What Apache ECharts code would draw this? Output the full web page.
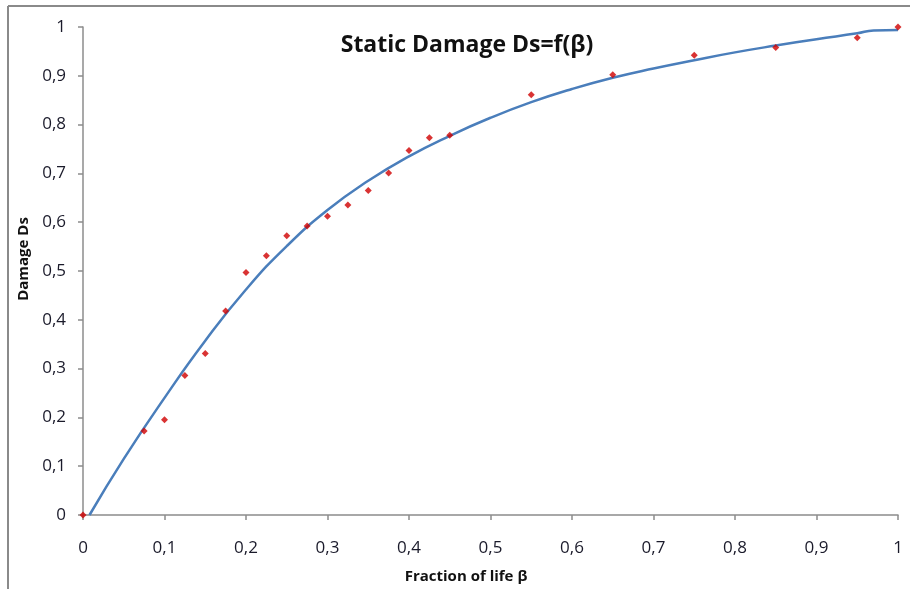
<!DOCTYPE html>
<html>
<head>
<meta charset="utf-8">
<script src="https://cdn.jsdelivr.net/npm/echarts@6/dist/echarts.min.js"></script>
<style>
html,body{margin:0;padding:0;background:#fff;}
#c{width:910px;height:589px;}
</style>
</head>
<body>
<div id="c"></div>
<script>
// Measured damage points (beta, Ds)
const measuredBeta = [0, 0.075, 0.1, 0.125, 0.15, 0.175, 0.2, 0.225, 0.25, 0.275, 0.3, 0.325, 0.35, 0.375, 0.4, 0.425, 0.45, 0.55, 0.65, 0.75, 0.85, 0.95, 1.0];
const measuredDs   = [0, 0.172, 0.195, 0.286, 0.331, 0.418, 0.497, 0.531, 0.572, 0.592, 0.612, 0.635, 0.665, 0.701, 0.747, 0.773, 0.778, 0.861, 0.902, 0.942, 0.958, 0.978, 1.0];
// Fitted curve
const curveBeta = [0.008, 0.05, 0.1, 0.15, 0.2, 0.25, 0.3, 0.35, 0.4, 0.45, 0.5, 0.55, 0.6, 0.65, 0.7, 0.75, 0.8, 0.85, 0.9, 0.95, 0.97, 1.0];
const curveDs   = [0, 0.115, 0.24, 0.357, 0.462, 0.551, 0.625, 0.685, 0.735, 0.777, 0.814, 0.846, 0.873, 0.896, 0.915, 0.932, 0.948, 0.962, 0.975, 0.987, 0.993, 0.994];
const xTicks = [0, 0.1, 0.2, 0.3, 0.4, 0.5, 0.6, 0.7, 0.8, 0.9, 1];
const yTicks = [0, 0.1, 0.2, 0.3, 0.4, 0.5, 0.6, 0.7, 0.8, 0.9, 1];

const titleText = 'Static Damage Ds=f(β)';
const xName = 'Fraction of life β';
const yName = 'Damage Ds';

const fmt = v => String(Math.round(v * 10) / 10).replace('.', ',');

const chart = echarts.init(document.getElementById('c'), null, {renderer: 'canvas'});
const axisCol = '#8c8c8c';
chart.setOption({
  animation: false,
  backgroundColor: '#ffffff',
  title: {
    text: titleText, left: 462, top: 29, textAlign: 'center',
    textStyle: {fontFamily: 'Open Sans', fontWeight: 'bold', fontSize: 23, color: '#111'}
  },
  grid: {left: 83, right: 12, top: 27, bottom: 74, containLabel: false},
  xAxis: {
    type: 'value', min: xTicks[0], max: xTicks[xTicks.length - 1], interval: 0.1,
    axisLine: {show: true, lineStyle: {color: axisCol, width: 1.5}},
    axisTick: {show: true, inside: false, length: 5, lineStyle: {color: axisCol, width: 1.5}},
    axisLabel: {margin: 25, fontFamily: 'Open Sans', fontSize: 17, color: '#1a1a2a', formatter: fmt},
    splitLine: {show: false}
  },
  yAxis: {
    type: 'value', min: yTicks[0], max: yTicks[yTicks.length - 1], interval: 0.1,
    axisLine: {show: true, lineStyle: {color: axisCol, width: 1.5}},
    axisTick: {show: true, inside: false, length: 5, lineStyle: {color: axisCol, width: 1.5}},
    axisLabel: {margin: 17, fontFamily: 'Open Sans', fontSize: 17, color: '#1a1a2a', formatter: fmt},
    splitLine: {show: false}
  },
  graphic: [
    {type: 'line', shape: {x1: 8, y1: 6, x2: 910, y2: 6}, style: {stroke: '#8a8a8a', lineWidth: 2}, silent: true},
    {type: 'line', shape: {x1: 8, y1: 6, x2: 8, y2: 589}, style: {stroke: '#8a8a8a', lineWidth: 2}, silent: true},
    {type: 'text', x: 24, y: 259, rotation: Math.PI / 2, style: {text: yName, fontFamily: 'Open Sans', fontWeight: 'bold', fontSize: 15, fill: '#111', align: 'center', verticalAlign: 'middle'}, silent: true},
    {type: 'text', x: 466, y: 577, style: {text: xName, fontFamily: 'Open Sans', fontWeight: 'bold', fontSize: 15, fill: '#111', align: 'center', verticalAlign: 'middle'}, silent: true}
  ],
  series: [
    {
      type: 'line', name: 'fit', smooth: 0.5, symbol: 'none', z: 2,
      data: curveBeta.map((b, i) => [b, curveDs[i]]),
      lineStyle: {color: '#4a7ebb', width: 2.5}
    },
    {
      type: 'scatter', name: 'measured', symbol: 'diamond', symbolSize: 7, z: 3,
      data: measuredBeta.map((b, i) => [b, measuredDs[i]]),
      itemStyle: {color: '#d00000'}
    }
  ]
});
</script>
</body>
</html>
